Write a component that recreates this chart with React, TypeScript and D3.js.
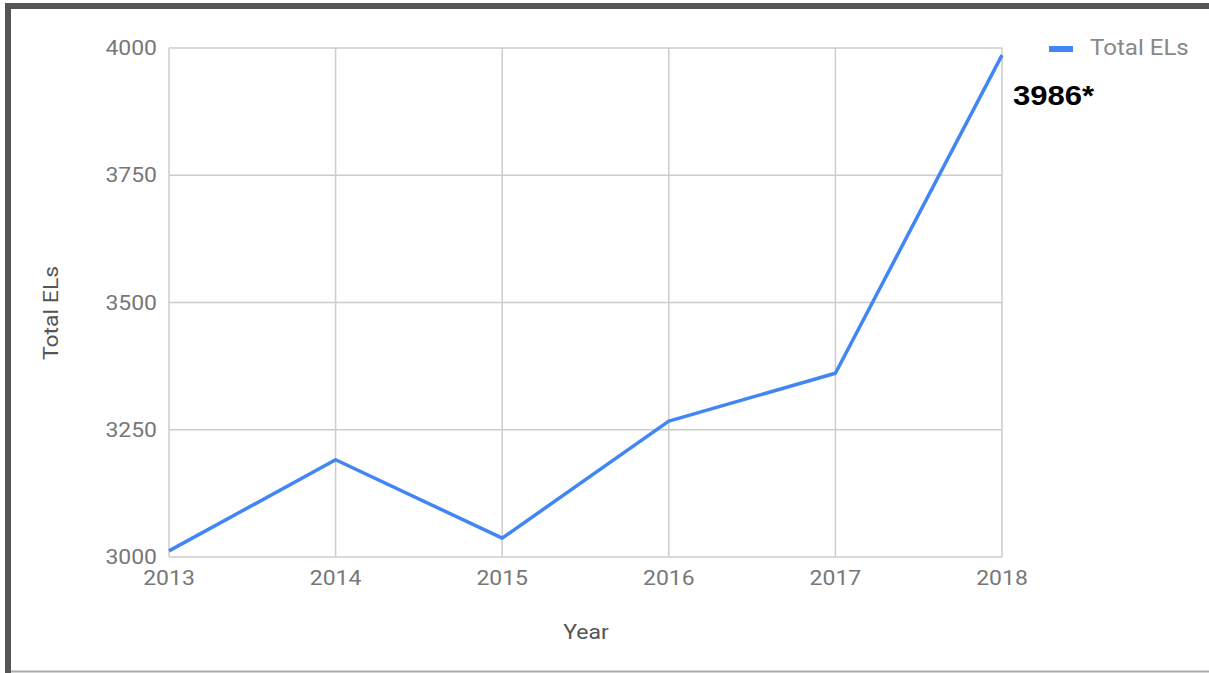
import React from "react";
import * as d3 from "d3";

const years = [2013, 2014, 2015, 2016, 2017, 2018];
const totalELs = [3012, 3191, 3037, 3267, 3361, 3986];
const yTicks = [3000, 3250, 3500, 3750, 4000];
const seriesName = "Total ELs";
const annotation = "3986*";

export default function App() {
  const W = 1209, H = 673;
  const x = d3.scaleLinear().domain([2013, 2018]).range([169, 1002]);
  const y = d3.scaleLinear().domain([3000, 4000]).range([557, 48]);
  const line = d3.line<number>().x((_, i) => x(years[i])).y((d) => y(d));
  const font = "Roboto, Arial, sans-serif";
  const sx = 1.12;
  const T = (props: any) => {
    const { x: tx, y: ty, children, anchor, ...rest } = props;
    return (
      <text
        transform={`translate(${tx},${ty}) scale(${sx},1)`}
        textAnchor={anchor}
        fontFamily={font}
        {...rest}
      >
        {children}
      </text>
    );
  };
  return (
    <svg
      width={W}
      height={H}
      style={{ position: "absolute", left: 0, top: 0, background: "#fff" }}
    >
      <rect x={0} y={0} width={W} height={H} fill="#fff" />
      <rect x={5} y={3} width={W - 5} height={6} fill="#555" />
      <rect x={5} y={3} width={6} height={H - 3} fill="#555" />
      <line x1={11} x2={W} y1={671.5} y2={671.5} stroke="#aaa" strokeWidth={2} />
      {yTicks.map((t) => (
        <line key={"gy" + t} x1={169} x2={1002} y1={y(t)} y2={y(t)} stroke="#ccc" strokeWidth={1.5} />
      ))}
      {years.map((yr) => (
        <line key={"gx" + yr} x1={x(yr)} x2={x(yr)} y1={48} y2={557} stroke="#ccc" strokeWidth={1.5} />
      ))}
      {yTicks.map((t) => (
        <T key={"ty" + t} x={157} y={y(t) + 7} anchor="end" fontSize={20.5} fill="#777">
          {t}
        </T>
      ))}
      {years.map((yr) => (
        <T key={"tx" + yr} x={x(yr)} y={585} anchor="middle" fontSize={20.5} fill="#777">
          {yr}
        </T>
      ))}
      <T x={586} y={639} anchor="middle" fontSize={20.5} fill="#555">Year</T>
      <text
        transform="translate(58,313) rotate(-90) scale(1.12,1)"
        textAnchor="middle"
        fontFamily={font}
        fontSize={20.5}
        fill="#555"
      >
        Total ELs
      </text>
      <path d={line(totalELs) || ""} fill="none" stroke="#4285F4" strokeWidth={3.5} strokeLinejoin="round" />
      <rect x={1049} y={46} width={24} height={6} fill="#4285F4" />
      <T x={1090} y={55} anchor="start" fontSize={21.5} fill="#888">{seriesName}</T>
      <text
        transform="translate(1013,105) scale(1.15,1)"
        fontFamily="Arial, Liberation Sans, sans-serif"
        fontWeight="bold"
        fontSize={27}
        fill="#000"
      >
        {annotation}
      </text>
    </svg>
  );
}
